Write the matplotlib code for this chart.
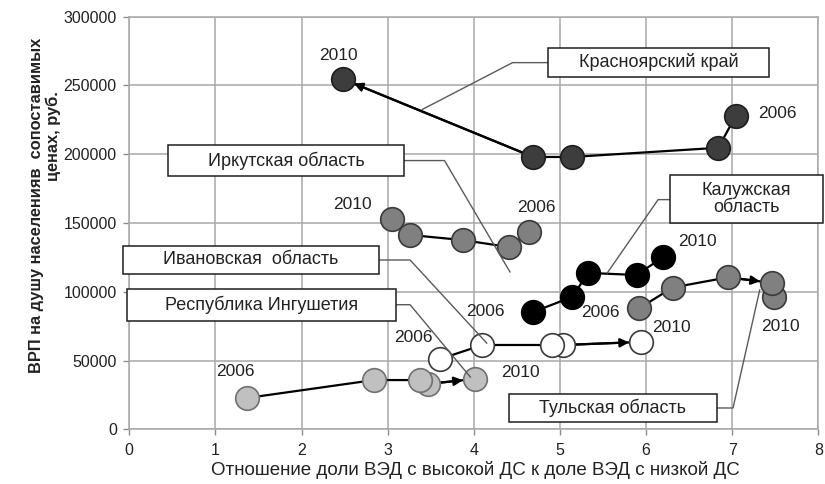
import matplotlib
matplotlib.use("Agg")
import matplotlib.pyplot as plt
from matplotlib.patches import Rectangle

plt.rcParams["font.family"] = ["Liberation Sans", "DejaVu Sans"]

# ── Data (x = ratio of high-DS to low-DS activity share, y = GRP per capita, rub.) ──
# points listed 2006 → 2010
krasnoyarsk_x = [7.04, 6.84, 5.14, 4.69, 2.48]
krasnoyarsk_y = [227800, 204700, 198000, 198000, 254700]

irkutsk_x = [4.64, 4.41, 3.87, 3.26, 3.05]
irkutsk_y = [143400, 132500, 137600, 141300, 152900]

kaluga_x = [4.69, 5.14, 5.33, 5.89, 6.20]
kaluga_y = [85300, 96200, 113700, 112200, 125300]

tula_x = [5.92, 6.31, 6.95, 7.46, 7.49]
tula_y = [88000, 103100, 110500, 106500, 96300]

ivanovo_x = [3.61, 4.10, 4.91, 5.04, 5.94]
ivanovo_y = [51100, 61300, 61300, 61300, 63500]

ingush_x = [1.37, 2.84, 3.38, 3.47, 4.01]
ingush_y = [22800, 35800, 35800, 33000, 36600]

x_ticks = [0, 1, 2, 3, 4, 5, 6, 7, 8]
y_ticks = [0, 50000, 100000, 150000, 200000, 250000, 300000]

# series: x, y, face, edge, arrow (from, to) index pair or None
SERIES = [
    (krasnoyarsk_x, krasnoyarsk_y, "#3d3d3d", "#1e1e1e", (3, 4)),
    (irkutsk_x, irkutsk_y, "#808080", "#3a3a3a", (0, 1)),
    (kaluga_x, kaluga_y, "#000000", "#000000", None),
    (tula_x, tula_y, "#808080", "#3a3a3a", (2, 3)),
    (ivanovo_x, ivanovo_y, "#ffffff", "#3a3a3a", (3, 4)),
    (ingush_x, ingush_y, "#c0c0c0", "#707070", (3, 4)),
]

# year labels: (text, x, y)
YEAR_LABELS = [
    ("2010", 2.43, 272000), ("2006", 7.52, 229300),
    ("2010", 2.59, 163800), ("2006", 4.73, 161600),
    ("2010", 6.60, 136900), ("2006", 4.13, 85300),
    ("2006", 5.47, 84600), ("2010", 7.56, 74400),
    ("2006", 3.30, 66400), ("2010", 6.30, 73700),
    ("2006", 1.23, 41700), ("2010", 4.54, 41000),
]

# callouts: text, box (x0, y0, x1, y1), leader path
CALLOUTS = [
    ("Красноярский край", (4.86, 256200, 7.43, 277300),
     [(4.86, 266600), (4.45, 266600), (3.40, 232500)]),
    ("Иркутская область", (0.45, 184200, 3.19, 206700),
     [(3.19, 195400), (3.66, 195400), (4.42, 114400)]),
    ("Калужская\nобласть", (6.28, 150000, 8.05, 184900),
     [(6.28, 167000), (6.14, 167000), (5.55, 113700)]),
    ("Ивановская  область", (-0.07, 112900, 2.90, 133300),
     [(2.90, 123100), (3.26, 123100), (4.15, 62700)]),
    ("Республика Ингушетия", (-0.03, 79000, 3.10, 102300),
     [(3.10, 90600), (3.26, 90600), (3.96, 38000)]),
    ("Тульская область", (4.41, 5300, 6.82, 25700),
     [(6.82, 15500), (7.01, 15500), (7.32, 101300)]),
]

MS = 17

fig = plt.figure(figsize=(8.25, 4.84), dpi=100)
ax = fig.add_axes([129.3 / 825, 1 - 429.3 / 484, 689 / 825, 412.6 / 484])

ax.set_xlim(0, 8)
ax.set_ylim(0, 300000)
ax.set_xticks(x_ticks)
ax.set_yticks(y_ticks)
ax.set_xticklabels([str(v) for v in x_ticks])
ax.set_yticklabels([str(v) for v in y_ticks])
ax.tick_params(labelsize=11.5, colors="#8c8c8c", labelcolor="#222222",
               length=4, width=1)
ax.tick_params(axis="x", pad=6)
ax.tick_params(axis="y", pad=5)
ax.grid(True, color="#a8a8a8", linewidth=1.1)
ax.set_axisbelow(True)
for sp in ax.spines.values():
    sp.set_color("#a8a8a8")
    sp.set_linewidth(1.1)

for xs, ys, face, edge, arrow in SERIES:
    ax.plot(xs, ys, color="black", lw=1.6, zorder=2, solid_capstyle="butt")
    if arrow is not None:
        a, b = arrow
        ax.annotate("", xy=(xs[b], ys[b]), xytext=(xs[a], ys[a]),
                    arrowprops=dict(arrowstyle="-|>", color="black", lw=1.6,
                                    shrinkA=0, shrinkB=MS / 2,
                                    mutation_scale=13),
                    zorder=2.5)
    # earlier years drawn on top
    ax.plot(xs[::-1], ys[::-1], ls="none", marker="o", ms=MS,
            mfc=face, mec=edge, mew=1.2, zorder=3)

for txt, x, y in YEAR_LABELS:
    ax.text(x, y, txt, fontsize=12.5, ha="center", va="center",
            color="#222222", zorder=6)

for txt, (x0, y0, x1, y1), path in CALLOUTS:
    px, py = zip(*path)
    ax.plot(px, py, color="#5a5a5a", lw=1.0, zorder=4, clip_on=False)
    ax.add_patch(Rectangle((x0, y0), x1 - x0, y1 - y0, facecolor="white",
                           edgecolor="#1e1e1e", lw=1.1, zorder=5,
                           clip_on=False))
    ax.text((x0 + x1) / 2, (y0 + y1) / 2, txt, fontsize=13, ha="center",
            va="center", color="#222222", zorder=6, linespacing=1.05)

fig.text(475 / 825, 1 - 470 / 484,
         "Отношение доли ВЭД с высокой ДС к доле ВЭД с низкой ДС",
         fontsize=13.5, ha="center", va="center", color="#222222")
fig.text(37 / 825, 1 - 205 / 484, "ВРП на душу населенияв  сопоставимых",
         fontsize=11.8, fontweight="bold", rotation=90, ha="center",
         va="center", color="#222222")
fig.text(53 / 825, 1 - 136 / 484, "ценах, руб.",
         fontsize=11.8, fontweight="bold", rotation=90, ha="center",
         va="center", color="#222222")

fig.savefig("out.png", dpi=100)
